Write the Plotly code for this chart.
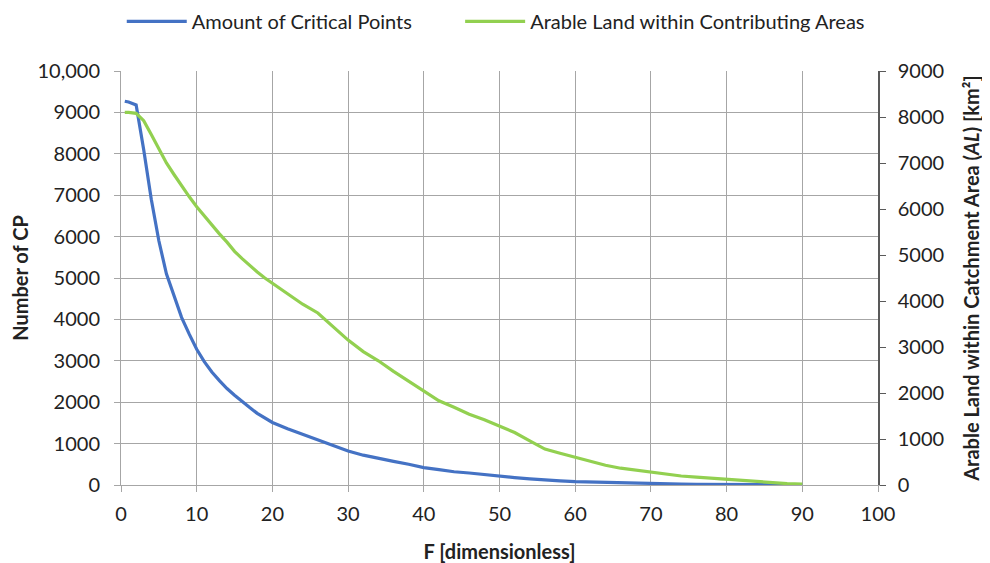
import plotly.graph_objects as go

# F values
f_vals = [0.5, 1, 2, 3, 4, 5, 6, 7, 8, 9, 10, 11, 12, 13, 14, 15, 16, 17, 18, 19, 20,
          22, 24, 26, 28, 30, 32, 34, 36, 38, 40, 42, 44, 46, 48, 50, 52, 54, 56, 58,
          60, 62, 64, 66, 68, 70, 72, 74, 76, 78, 80, 82, 84, 86, 88, 90]

# Amount of critical points (left axis)
cp_vals = [9270, 9250, 9180, 8100, 6900, 5900, 5100, 4550, 4050, 3650, 3280, 2980, 2730,
           2520, 2330, 2170, 2010, 1870, 1730, 1630, 1510, 1360, 1230, 1100, 970, 820,
           720, 640, 570, 500, 420, 370, 320, 290, 250, 210, 180, 150, 120, 100, 80,
           70, 55, 45, 40, 30, 25, 22, 18, 15, 12, 9, 7, 5, 3, 2]

# Arable land within contributing areas (right axis, km²)
al_vals = [8100, 8100, 8080, 7920, 7620, 7300, 7000, 6750, 6500, 6270, 6050, 5850, 5650,
           5460, 5280, 5080, 4920, 4770, 4630, 4500, 4390, 4150, 3930, 3740, 3450, 3150,
           2900, 2700, 2470, 2260, 2050, 1830, 1690, 1540, 1420, 1280, 1140, 960, 780,
           690, 600, 520, 430, 365, 320, 268, 230, 195, 170, 145, 125, 90, 65, 40, 30, 20]

left_ticks = [0, 1000, 2000, 3000, 4000, 5000, 6000, 7000, 8000, 9000, 10000]
left_labels = ["0", "1000", "2000", "3000", "4000", "5000", "6000", "7000", "8000", "9000", "10,000"]
right_ticks = [0, 1000, 2000, 3000, 4000, 5000, 6000, 7000, 8000, 9000]
x_ticks = [0, 10, 20, 30, 40, 50, 60, 70, 80, 90, 100]

FONT = "Lato, Liberation Sans, Arial, sans-serif"
grid = "#a6a6a6"
FS = 20

fig = go.Figure()
fig.add_trace(go.Scatter(x=f_vals, y=cp_vals, mode="lines", name="Amount of Critical Points",
                         line=dict(color="#4472C4", width=3.2), yaxis="y", legend="legend"))
fig.add_trace(go.Scatter(x=f_vals, y=al_vals, mode="lines", name="Arable Land within Contributing Areas",
                         line=dict(color="#92D050", width=3.2), yaxis="y2", legend="legend2"))

leg_common = dict(orientation="h", y=1.12, yref="paper", yanchor="middle", xanchor="left",
                  font=dict(size=FS), itemwidth=60, bgcolor="rgba(0,0,0,0)")

fig.update_layout(
    width=982, height=555,
    margin=dict(l=113, r=112, t=63, b=78, autoexpand=False),
    paper_bgcolor="white", plot_bgcolor="white",
    font=dict(family=FONT, size=FS, color="#222"),
    showlegend=True,
    legend=dict(x=0.001, **leg_common),
    legend2=dict(x=0.448, **leg_common),
    xaxis=dict(range=[0, 100], tickvals=x_ticks, showgrid=True, gridcolor=grid, gridwidth=1,
               showline=True, linecolor=grid, linewidth=1, ticks="outside", ticklen=6, tickcolor=grid,
               zeroline=False, mirror=False, automargin=False, ticklabelstandoff=5,
               title=dict(text="<b>F [dimensionless]</b>", font=dict(size=FS), standoff=20)),
    yaxis=dict(range=[0, 10000], tickvals=left_ticks, ticktext=left_labels, showgrid=True,
               gridcolor=grid, gridwidth=1, showline=True, linecolor=grid, linewidth=1,
               ticks="outside", ticklen=6, tickcolor=grid, zeroline=False, automargin=False,
               ticklabelstandoff=10,
               title=dict(text="<b>Number of CP</b>", font=dict(size=FS), standoff=9)),
    yaxis2=dict(range=[0, 9000], tickvals=right_ticks, overlaying="y", side="right",
                showgrid=False, showline=True, linecolor="#595959", linewidth=1.5,
                ticks="outside", ticklen=6, tickcolor="#595959", zeroline=False, automargin=False,
                ticklabelstandoff=8,
                title=dict(text="<b>Arable Land within Catchment Area (<i>AL</i>) [km²]</b>",
                           font=dict(size=FS), standoff=22)),
)

fig.write_html("out.html")
